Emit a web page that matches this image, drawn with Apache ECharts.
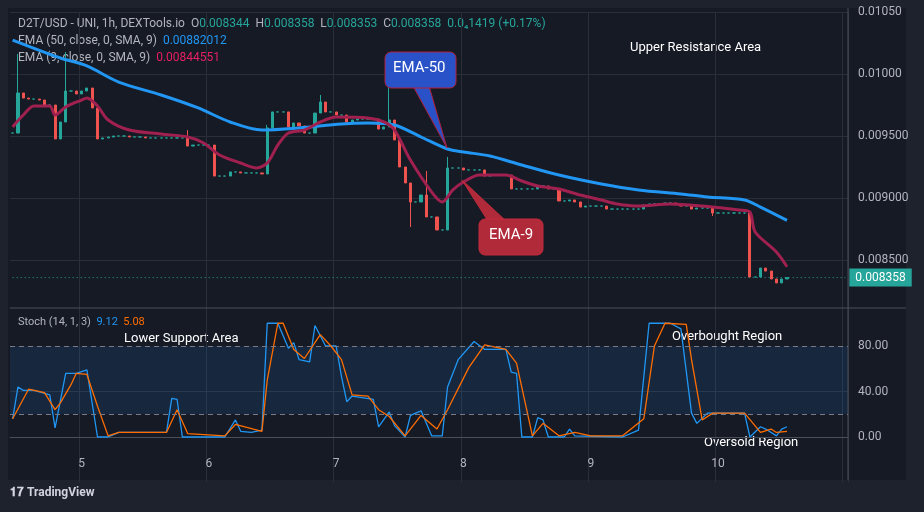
<!DOCTYPE html>
<html><head><meta charset="utf-8">
<script src="https://cdn.jsdelivr.net/npm/echarts@6/dist/echarts.min.js"></script>
<style>html,body{margin:0;padding:0;background:#1e222d}#c{width:924px;height:512px}</style>
</head><body><div id="c"></div>
<script>
const dayLabels = ['5','6','7','8','9','10'];
const firstDayIndex = 13;
const slotCount = 158;
const firstOpen = 0.009524;
const closes = [
0.009524,0.009847,0.009806,0.009798,0.009798,0.009790,0.009750,0.009750,0.009476,0.009613,
0.009863,0.009863,0.009839,0.009863,0.009887,0.009726,0.009476,0.009484,0.009492,0.009500,
0.009500,0.009500,0.009492,0.009492,0.009492,0.009484,0.009484,0.009484,0.009484,0.009484,
0.009484,0.009484,0.009484,0.009419,0.009427,0.009427,0.009427,0.009427,0.009177,0.009177,
0.009177,0.009210,0.009210,0.009202,0.009202,0.009202,0.009202,0.009194,0.009565,0.009694,
0.009694,0.009694,0.009573,0.009605,0.009581,0.009524,0.009524,0.009685,0.009774,0.009694,
0.009694,0.009669,0.009669,0.009613,0.009629,0.009637,0.009637,0.009637,0.009637,0.009556,
0.009573,0.009629,0.009468,0.009250,0.009121,0.008968,0.008968,0.009024,0.008847,0.008847,
0.008742,0.008742,0.009242,0.009242,0.009242,0.009226,0.009226,0.009226,0.009226,0.009177,
0.009185,0.009185,0.009185,0.009185,0.009073,0.009073,0.009073,0.009073,0.009073,0.009097,
0.009097,0.009073,0.009073,0.008976,0.008976,0.008984,0.008968,0.008927,0.008935,0.008935,
0.008935,0.008935,0.008911,0.008911,0.008911,0.008911,0.008911,0.008911,0.008911,0.008944,
0.008952,0.008952,0.008952,0.008960,0.008960,0.008952,0.008935,0.008935,0.008911,0.008919,
0.008919,0.008919,0.008879,0.008879,0.008879,0.008879,0.008879,0.008879,0.008879,0.008363,
0.008363,0.008435,0.008411,0.008347,0.008315,0.008347,0.008358];
const highWicks = [[1,0.010161],[10,0.010177],[33,0.009548],[48,0.009589],[58,0.009831],[71,0.009911],[78,0.009218],[82,0.009331]];
const lowWicks = [[75,0.008766],[132,0.008855]];
const ema50 = [[0,0.010274],[9,0.010129],[14,0.010065],[20,0.009935],[28,0.009831],[35,0.009726],[41,0.009613],[47,0.009548],[54,0.009565],[62,0.009597],[67,0.009605],[72,0.009589],[77,0.009492],[82,0.009395],[85,0.009371],[90,0.009339],[96,0.009266],[103,0.009185],[111,0.009113],[118,0.009065],[126,0.009032],[131,0.009008],[138,0.008984],[141,0.008927],[146,0.008820]];
const ema9 = [[0,0.009573],[2,0.009669],[4,0.009742],[7,0.009742],[8,0.009669],[10,0.009734],[13,0.009790],[14,0.009806],[16,0.009742],[18,0.009629],[22,0.009548],[28,0.009516],[33,0.009492],[36,0.009444],[39,0.009347],[43,0.009282],[46,0.009242],[48,0.009282],[50,0.009427],[52,0.009524],[55,0.009548],[58,0.009613],[61,0.009653],[67,0.009645],[70,0.009613],[72,0.009548],[75,0.009306],[79,0.009048],[81,0.008968],[83,0.009065],[85,0.009129],[88,0.009185],[93,0.009185],[96,0.009137],[99,0.009097],[103,0.009073],[107,0.009024],[111,0.008984],[114,0.008952],[118,0.008935],[124,0.008952],[130,0.008935],[137,0.008903],[139,0.008887],[140,0.008726],[144,0.008565],[146,0.008446]];
const stochK = [[0,16],[1,44],[2,41],[4,41],[7,37],[8,8],[10,56],[12,56],[14,59],[16,0],[18,0],[20,4],[23,4],[29,4],[30,34],[31,33],[32,0],[40,0],[42,15],[43,5],[45,4],[47,6],[48,100],[50,100],[52,78],[53,83],[54,68],[56,66],[57,98],[59,80],[61,80],[62,53],[63,31],[64,36],[68,33],[69,9],[71,22],[72,10],[74,0],[75,19],[77,23],[79,1],[81,1],[82,44],[84,68],[87,84],[89,77],[93,77],[94,57],[95,56],[96,0],[98,0],[99,17],[100,15],[101,0],[104,0],[105,7],[106,1],[115,0],[118,6],[120,100],[124,100],[126,95],[128,21],[129,12],[131,21],[138,21],[139,0],[141,9],[142,7],[144,1],[145,7],[146,9]];
const stochD = [[0,16],[3,42],[6,39],[8,24],[9,30],[11,46],[12,56],[14,55],[16,27],[18,1],[20,4],[24,4],[29,4],[31,24],[33,3],[40,1],[42,11],[47,5],[48,50],[50,100],[51,100],[53,77],[55,69],[58,90],[60,80],[62,68],[64,37],[67,36],[69,24],[71,18],[74,1],[77,19],[80,7],[82,24],[86,61],[89,81],[93,77],[95,65],[98,1],[100,12],[103,1],[106,4],[109,1],[115,1],[119,16],[121,80],[123,100],[127,99],[128,68],[130,15],[132,21],[138,21],[141,4],[143,7],[144,4],[146,5]];
const lastPrice = 0.008358;

const cats = [];
for (let i = 0; i < slotCount; i++) cats.push('h' + i);
const candles = closes.map((c, i) => {
  const o = i === 0 ? firstOpen : closes[i - 1];
  let h = Math.max(o, c), l = Math.min(o, c);
  highWicks.forEach(w => { if (w[0] === i) h = w[1]; });
  lowWicks.forEach(w => { if (w[0] === i) l = w[1]; });
  return [o, c, l, h];
});
const isDay = i => i >= firstDayIndex && (i - firstDayIndex) % 24 === 0;
const dayOf = i => dayLabels[(i - firstDayIndex) / 24] || '';
const FONT = 'Roboto';
const grey = '#b2b5be';
const gridLine = '#2a2e39';

const chart = echarts.init(document.getElementById('c'));
chart.setOption({
  backgroundColor: '#1e222d',
  animation: false,
  textStyle: {fontFamily: FONT},
  graphic: [
    {type: 'rect', z: -10, shape: {x: 8, y: 8, width: 898, height: 472}, style: {fill: '#161a25'}},
    {type: 'line', z: 5, shape: {x1: 10, y1: 308, x2: 906, y2: 308}, style: {stroke: '#4a4e59', lineWidth: 1}},
    {type: 'line', z: 5, shape: {x1: 848, y1: 8, x2: 848, y2: 480}, style: {stroke: '#4a4e59', lineWidth: 1}},
    {type: 'text', left: 18, top: 18, style: {text: '{g|D2T/USD - UNI, 1h, DEXTools.io  O}{t|0.008344}{g|  H}{t|0.008358}{g|  L}{t|0.008353}{g|  C}{t|0.008358}{t|  0.0₄1419 (+0.17%)}', rich: {g: {fill: grey, fontSize: 12, fontFamily: FONT}, t: {fill: '#26a69a', fontSize: 12, fontFamily: FONT}}}},
    {type: 'text', left: 18, top: 35, style: {text: '{g|EMA (50, close, 0, SMA, 9)  }{b|0.00882012}', rich: {g: {fill: grey, fontSize: 12, fontFamily: FONT}, b: {fill: '#2196f3', fontSize: 12, fontFamily: FONT}}}},
    {type: 'text', left: 18, top: 52, style: {text: '{g|EMA (9, close, 0, SMA, 9)  }{r|0.00844551}', rich: {g: {fill: grey, fontSize: 12, fontFamily: FONT}, r: {fill: '#e91e63', fontSize: 12, fontFamily: FONT}}}},
    {type: 'text', left: 18, top: 317, style: {text: '{g|Stoch (14, 1, 3)  }{b|9.12  }{o|5.08}', rich: {g: {fill: grey, fontSize: 11, fontFamily: FONT}, b: {fill: '#2196f3', fontSize: 11, fontFamily: FONT}, o: {fill: '#ff6d00', fontSize: 11, fontFamily: FONT}}}},
    {type: 'text', left: 630, top: 41, style: {text: 'Upper Resistance Area', fill: '#ffffff', fontSize: 13, fontFamily: FONT}},
    {type: 'text', left: 124, top: 332, style: {text: 'Lower Support Area', fill: '#ffffff', fontSize: 13, fontFamily: FONT}},
    {type: 'text', left: 672, top: 330, style: {text: 'Overbought Region', fill: '#ffffff', fontSize: 13, fontFamily: FONT}},
    {type: 'text', left: 704, top: 436, style: {text: 'Oversold Region', fill: '#ffffff', fontSize: 13, fontFamily: FONT}},
    {type: 'polygon', z: 20, shape: {points: [[413, 86], [429, 86], [447, 148]]}, style: {fill: '#2a52c8', stroke: '#b0203c', lineWidth: 1}},
    {type: 'rect', z: 20, shape: {x: 385, y: 52, width: 71, height: 36, r: 6}, style: {fill: '#2a52c8', stroke: '#b0203c', lineWidth: 1}},
    {type: 'text', z: 21, left: 393, top: 61, style: {text: 'EMA-50', fill: '#ffffff', fontSize: 15, fontFamily: FONT}},
    {type: 'polygon', z: 20, shape: {points: [[462, 180], [488, 221], [506, 221]]}, style: {fill: '#b02a3a', stroke: '#c22a3a', lineWidth: 1}},
    {type: 'rect', z: 20, shape: {x: 479, y: 219, width: 64, height: 36, r: 6}, style: {fill: '#b02a3a', stroke: '#c22a3a', lineWidth: 1}},
    {type: 'text', z: 21, left: 489, top: 228, style: {text: 'EMA-9', fill: '#ffffff', fontSize: 15, fontFamily: FONT}},
    {type: 'text', left: 10, top: 487, style: {text: '𝟏𝟕 TradingView', fill: '#d1d4dc', fontSize: 12, fontWeight: 'bold', fontFamily: FONT}}
  ],
  grid: [
    {left: 10, right: 76, top: 12, height: 310},
    {left: 10, right: 76, top: 300.5, height: 182}
  ],
  xAxis: [
    {type: 'category', gridIndex: 0, data: cats, boundaryGap: true, axisLine: {show: false}, axisTick: {show: false}, axisLabel: {show: false},
     splitLine: {show: true, interval: (i) => isDay(i), lineStyle: {color: gridLine}}},
    {type: 'category', gridIndex: 1, data: cats, boundaryGap: true, offset: -33.5, axisLine: {show: true, lineStyle: {color: '#4a4e59'}}, axisTick: {show: false},
     axisLabel: {interval: (i) => isDay(i), formatter: (v, i) => dayOf(i), color: grey, fontSize: 12, margin: 9},
     splitLine: {show: true, interval: (i) => isDay(i), lineStyle: {color: gridLine}}}
  ],
  yAxis: [
    {type: 'value', gridIndex: 0, position: 'right', min: 0.008, max: 0.0105, interval: 0.0005,
     axisLine: {show: false}, axisTick: {show: false},
     axisLabel: {color: grey, fontSize: 12, margin: 10, showMinLabel: false, formatter: v => v.toFixed(v >= 0.00999 ? 5 : 6)},
     splitLine: {lineStyle: {color: ['rgba(0,0,0,0)', gridLine, gridLine, gridLine, gridLine, gridLine]}}},
    {type: 'value', gridIndex: 1, position: 'right', min: -40, max: 120, interval: 40,
     axisLine: {show: false}, axisTick: {show: false},
     axisLabel: {color: grey, fontSize: 12, margin: 10, showMinLabel: false, showMaxLabel: false, formatter: v => (v >= 0 && v <= 80) ? v.toFixed(2) : ''},
     splitLine: {lineStyle: {color: ['rgba(0,0,0,0)', gridLine, gridLine, 'rgba(0,0,0,0)', 'rgba(0,0,0,0)']}}}
  ],
  series: [
    {type: 'candlestick', xAxisIndex: 0, yAxisIndex: 0, data: candles, barMaxWidth: 4,
     itemStyle: {color: '#26a69a', color0: '#ef5350', borderColor: '#26a69a', borderColor0: '#ef5350'}},
    {type: 'line', xAxisIndex: 0, yAxisIndex: 0, data: [[0, lastPrice], [slotCount - 1, lastPrice]], showSymbol: false, z: 1,
     lineStyle: {color: '#26a69a', type: [1, 3], width: 1},
     endLabel: {show: true, formatter: '0.008358', color: '#fff', backgroundColor: '#26a69a', padding: [3, 6], fontSize: 12, distance: 4}},
    {type: 'line', xAxisIndex: 0, yAxisIndex: 0, data: ema50, smooth: 0.3, showSymbol: false, lineStyle: {color: '#2196f3', width: 3}, z: 3},
    {type: 'line', xAxisIndex: 0, yAxisIndex: 0, data: ema9, smooth: 0.3, showSymbol: false, lineStyle: {color: '#a0204f', width: 3}, z: 3},
    {type: 'line', xAxisIndex: 1, yAxisIndex: 1, data: stochK, showSymbol: false, lineStyle: {color: '#2196f3', width: 1.3},
     markArea: {silent: true, itemStyle: {color: 'rgba(33,150,243,0.12)'}, data: [[{yAxis: 20}, {yAxis: 80}]]},
     markLine: {symbol: 'none', silent: true, label: {show: false}, lineStyle: {color: '#787b86', type: [5, 4], width: 1}, data: [{yAxis: 80}, {yAxis: 20}]}},
    {type: 'line', xAxisIndex: 1, yAxisIndex: 1, data: stochD, showSymbol: false, lineStyle: {color: '#ff6d00', width: 1.3}}
  ]
});
</script></body></html>
